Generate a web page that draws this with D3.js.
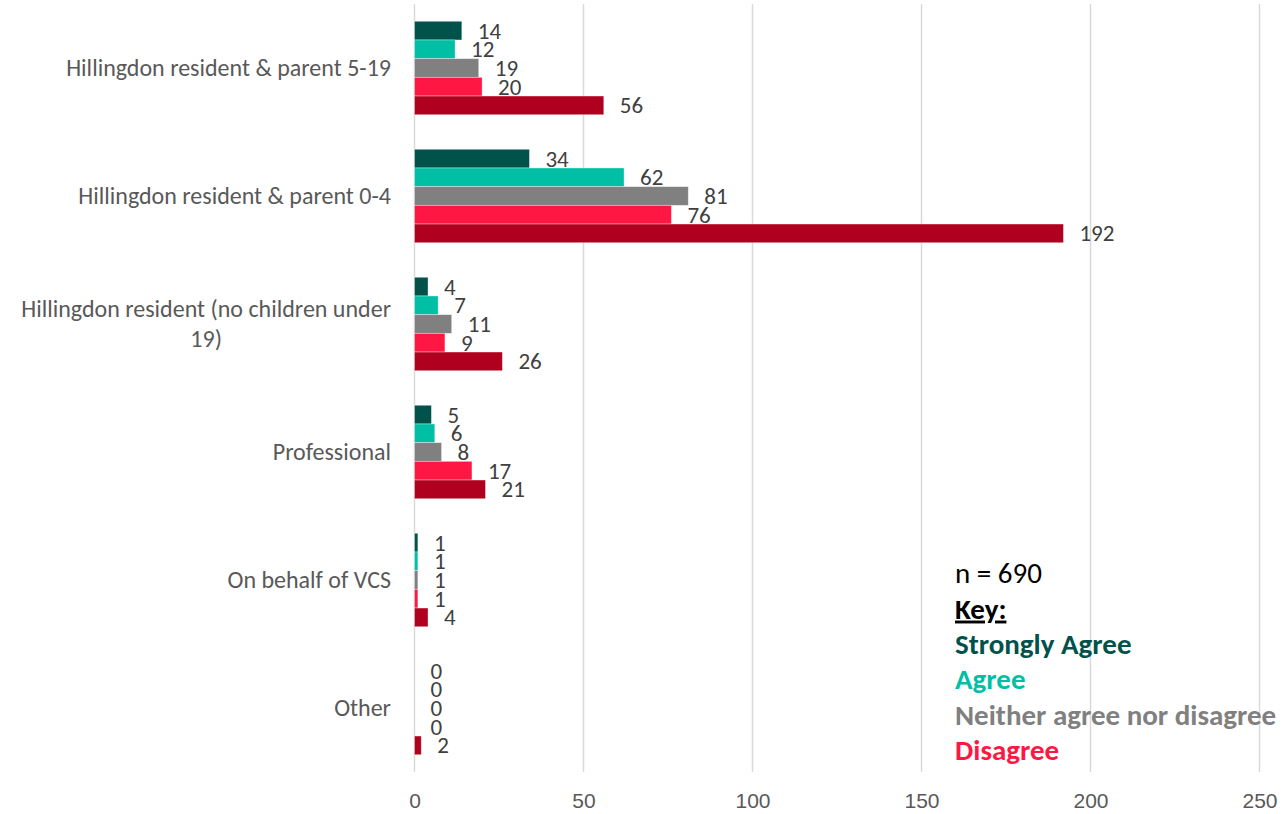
<!DOCTYPE html>
<html>
<head>
<meta charset="utf-8">
<script src="https://cdn.jsdelivr.net/npm/d3@7"></script>
<style>
  html, body { margin: 0; padding: 0; background: #fff; }
  svg { display: block; font-family: Carlito, Lato, "Open Sans", sans-serif; }
</style>
</head>
<body>
<svg id="chart" width="1284" height="814"></svg>
<script>
// Respondent groups, top to bottom
const categories = [
  "Hillingdon resident & parent 5-19",
  "Hillingdon resident & parent 0-4",
  "Hillingdon resident (no children under 19)",
  "Professional",
  "On behalf of VCS",
  "Other"
];

// Answer options, in bar order within each group
const seriesNames = ["Strongly Agree", "Agree", "Neither agree nor disagree", "Disagree", "Strongly Disagree"];
const seriesColors = ["#00524a", "#00bfa5", "#808080", "#ff1744", "#b00020"];

// Counts per group, one array per answer option
const stronglyAgree    = [14, 34, 4, 5, 1, 0];
const agree            = [12, 62, 7, 6, 1, 0];
const neither          = [19, 81, 11, 8, 1, 0];
const disagree         = [20, 76, 9, 17, 1, 0];
const stronglyDisagree = [56, 192, 26, 21, 4, 2];

const xTicks = [0, 50, 100, 150, 200, 250];
const sampleNote = "n = 690";
const keyTitle = "Key:";
// Only the first four options appear in the key
const keyItems = seriesNames.slice(0, 4);

const seriesValues = [stronglyAgree, agree, neither, disagree, stronglyDisagree];

const svg = d3.select("#chart");
const margin = { left: 414.5, right: 24.5, top: 4, bottom: 42 };
const W = 1284, H = 814;

const x = d3.scaleLinear().domain([0, 250]).range([margin.left, W - margin.right]);
const y = d3.scaleBand().domain(categories).range([margin.top, H - margin.bottom]).paddingInner(0.27).paddingOuter(0.135);
const yInner = d3.scaleBand().domain(d3.range(seriesNames.length)).range([0, y.bandwidth()]);

// Vertical gridlines
svg.append("g")
  .selectAll("line")
  .data(xTicks)
  .join("line")
  .attr("x1", d => x(d)).attr("x2", d => x(d))
  .attr("y1", margin.top).attr("y2", H - margin.bottom)
  .attr("stroke", "#d9d9d9").attr("stroke-width", 1.5);

// Bottom axis labels
const xAxis = d3.axisBottom(x).tickValues(xTicks).tickSize(0).tickPadding(21);
const gx = svg.append("g").attr("transform", `translate(0,${H - margin.bottom})`).call(xAxis);
gx.select(".domain").remove();
gx.selectAll("text").attr("font-size", 21).attr("fill", "#595959").style("font-family", "inherit");

// Bars and value labels
const groups = svg.append("g")
  .selectAll("g")
  .data(categories)
  .join("g")
  .attr("transform", d => `translate(0,${y(d)})`);

groups.each(function(cat, ci) {
  const g = d3.select(this);
  seriesValues.forEach((vals, si) => {
    const v = vals[ci];
    g.append("rect")
      .attr("x", x(0))
      .attr("y", yInner(si))
      .attr("width", x(v) - x(0))
      .attr("height", yInner.bandwidth())
      .attr("fill", seriesColors[si])
      .attr("stroke", "#ffffff").attr("stroke-opacity", 0.45).attr("stroke-width", 0.8);
    g.append("text")
      .attr("x", x(v) + 16)
      .attr("y", yInner(si) + yInner.bandwidth() / 2)
      .attr("dy", "0.35em")
      .attr("font-size", 23)
      .attr("fill", "#404040")
      .text(v);
  });
});

// Category labels, wrapped to a fixed width and centred when wrapped
const labelRight = 391;
const maxLabelWidth = 385;
const lineHeight = 30;
const labelLayer = svg.append("g");
categories.forEach(cat => {
  const cy = y(cat) + y.bandwidth() / 2;
  const t = labelLayer.append("text").attr("font-size", 24).attr("fill", "#595959");
  const words = cat.split(" ");
  const lines = [];
  let cur = [];
  const probe = t.append("tspan");
  words.forEach(w => {
    const trial = cur.concat(w).join(" ");
    probe.text(trial);
    if (probe.node().getComputedTextLength() > maxLabelWidth && cur.length) {
      lines.push(cur.join(" "));
      cur = [w];
    } else {
      cur.push(w);
    }
  });
  lines.push(cur.join(" "));
  probe.remove();
  if (lines.length === 1) {
    t.attr("text-anchor", "end").attr("x", labelRight).attr("y", cy).attr("dy", "0.35em").text(cat);
  } else {
    const tmp = lines.map(l => { const s = t.append("tspan").text(l); const w = s.node().getComputedTextLength(); s.remove(); return w; });
    const widest = d3.max(tmp);
    const cx = labelRight - widest / 2;
    const y0 = cy - (lines.length - 1) * lineHeight / 2;
    t.attr("text-anchor", "middle");
    lines.forEach((l, i) => {
      t.append("tspan").attr("x", cx).attr("y", y0 + i * lineHeight).attr("dy", "0.35em").text(l);
    });
  }
});

// Sample size and key
const keyX = 955;
const keyTop = 573;
const keyStep = 35.4;
const key = svg.append("g");
key.append("text").attr("x", keyX).attr("y", keyTop).attr("dy", "0.35em")
  .attr("font-size", 29).attr("fill", "#000").text(sampleNote);
key.append("text").attr("x", keyX).attr("y", keyTop + keyStep).attr("dy", "0.35em")
  .attr("font-size", 29).attr("font-weight", "bold").attr("fill", "#000")
  .attr("text-decoration", "underline").text(keyTitle);
key.selectAll("text.item")
  .data(keyItems)
  .join("text")
  .attr("class", "item")
  .attr("x", keyX)
  .attr("y", (d, i) => keyTop + keyStep * (i + 2))
  .attr("dy", "0.35em")
  .attr("font-size", 29)
  .attr("font-weight", "bold")
  .attr("fill", (d, i) => seriesColors[i])
  .text(d => d);
</script>
</body>
</html>
